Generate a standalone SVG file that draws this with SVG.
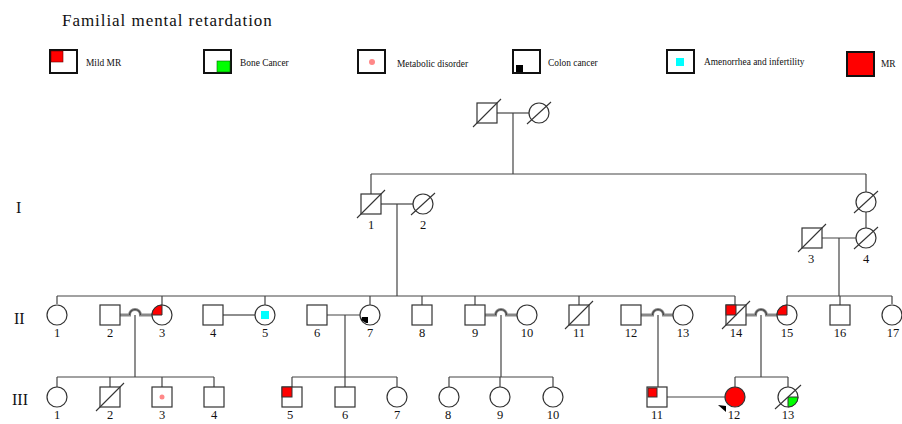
<svg xmlns="http://www.w3.org/2000/svg" width="902" height="424" viewBox="0 0 902 424">
<style>
.t{font-family:"Liberation Serif",serif;fill:#111}
.lab{font-size:12.5px;text-anchor:middle}
.leg{font-size:9.4px}
.gen{font-size:16px}
.n{fill:#fff;stroke:#333;stroke-width:1.2}
.lb{fill:#fff;stroke:#111;stroke-width:2}
.d{stroke:#333;stroke-width:1.1;fill:none}
.c line,.c path,.c polyline{stroke:#444;stroke-width:1.2;fill:none}
.c .dbl{stroke:#888;stroke-width:3}
</style>
<rect width="902" height="424" fill="#fff"/>
<text class="t" x="62" y="26" font-size="17" letter-spacing="0.95">Familial mental retardation</text>
<g id="legend">
<rect class="lb" x="50" y="50" width="27" height="23"/><rect x="51" y="51" width="12" height="11" fill="#f00" stroke="#600" stroke-width="0.6"/>
<text class="t leg" x="86" y="66">Mild MR</text>
<rect class="lb" x="204" y="50" width="27" height="23"/><rect x="217" y="61" width="13" height="11" fill="#0f0" stroke="#060" stroke-width="0.6"/>
<text class="t leg" x="240" y="66">Bone Cancer</text>
<rect class="lb" x="358" y="50" width="27" height="23"/><circle cx="372" cy="62" r="3" fill="#f88"/>
<text class="t leg" x="397" y="67">Metabolic disorder</text>
<rect class="lb" x="513" y="50" width="27" height="23"/><rect x="516" y="65" width="7" height="7" fill="#000"/>
<text class="t leg" x="548" y="66">Colon cancer</text>
<rect class="lb" x="667" y="50" width="27" height="23"/><rect x="676" y="58" width="8" height="8" fill="#0ff"/>
<text class="t leg" x="704" y="65">Amenorrhea and infertility</text>
<rect x="847" y="52" width="27" height="24" fill="#f00" stroke="#111" stroke-width="2"/>
<text class="t leg" x="881" y="67">MR</text>
</g>
<g id="gen-labels">
<text class="t gen" x="16" y="213">I</text>
<text class="t gen" x="14" y="324">II</text>
<text class="t gen" x="12" y="405">III</text>
</g>
<g class="c" id="connectors">
<line x1="497" y1="113" x2="529" y2="113"/>
<line x1="513" y1="113" x2="513" y2="174"/>
<line x1="371" y1="174" x2="866" y2="174"/>
<line x1="371" y1="174" x2="371" y2="194"/>
<line x1="866" y1="174" x2="866" y2="192"/>
<line x1="381" y1="204" x2="413" y2="204"/>
<line x1="397" y1="204" x2="397" y2="296"/>
<line x1="866" y1="212" x2="866" y2="228"/>
<line x1="822" y1="238" x2="856" y2="238"/>
<line x1="839" y1="238" x2="839" y2="296"/>
<line x1="57" y1="296" x2="735" y2="296"/>
<line x1="787" y1="296" x2="892" y2="296"/>
<line x1="57" y1="296" x2="57" y2="304"/>
<line x1="162" y1="296" x2="162" y2="305"/>
<line x1="265" y1="296" x2="265" y2="305"/>
<line x1="370" y1="296" x2="370" y2="305"/>
<line x1="422" y1="296" x2="422" y2="305"/>
<line x1="475" y1="296" x2="475" y2="305"/>
<line x1="579" y1="296" x2="579" y2="305"/>
<line x1="735" y1="296" x2="735" y2="305"/>
<line x1="787" y1="296" x2="787" y2="305"/>
<line x1="840" y1="296" x2="840" y2="305"/>
<line x1="892" y1="296" x2="892" y2="304"/>
<path class="dbl" d="M120,315 H129.5 A5.5,5.5 0 0 1 140.5,315 H152"/>
<path d="M129.5,315 A5.5,5.5 0 0 1 140.5,315"/>
<line x1="223" y1="315" x2="255" y2="315"/>
<line x1="327" y1="315" x2="360" y2="315"/>
<path class="dbl" d="M485,315 H495.5 A5.5,5.5 0 0 1 506.5,315 H517"/>
<path d="M495.5,315 A5.5,5.5 0 0 1 506.5,315"/>
<path class="dbl" d="M641,315 H652.5 A5.5,5.5 0 0 1 663.5,315 H673"/>
<path d="M652.5,315 A5.5,5.5 0 0 1 663.5,315"/>
<path class="dbl" d="M746,315 H755.5 A5.5,5.5 0 0 1 766.5,315 H777"/>
<path d="M755.5,315 A5.5,5.5 0 0 1 766.5,315"/>
<line x1="135" y1="315" x2="135" y2="377"/>
<line x1="345" y1="315" x2="345" y2="377"/>
<line x1="501" y1="315" x2="501" y2="377"/>
<line x1="658" y1="315" x2="658" y2="387"/>
<line x1="761" y1="315" x2="761" y2="377"/>
<line x1="57" y1="377" x2="214" y2="377"/>
<line x1="292" y1="377" x2="397" y2="377"/>
<line x1="449" y1="377" x2="553" y2="377"/>
<line x1="735" y1="377" x2="788" y2="377"/>
<line x1="57" y1="377" x2="57" y2="387"/>
<line x1="110" y1="377" x2="110" y2="387"/>
<line x1="162" y1="377" x2="162" y2="387"/>
<line x1="214" y1="377" x2="214" y2="387"/>
<line x1="292" y1="377" x2="292" y2="387"/>
<line x1="345" y1="377" x2="345" y2="387"/>
<line x1="397" y1="377" x2="397" y2="387"/>
<line x1="449" y1="377" x2="449" y2="387"/>
<line x1="500" y1="377" x2="500" y2="387"/>
<line x1="553" y1="377" x2="553" y2="387"/>
<line x1="735" y1="377" x2="735" y2="387"/>
<line x1="788" y1="377" x2="788" y2="387"/>
<line x1="667" y1="397" x2="725" y2="397"/>
</g>
<g id="top-m"><rect class="n" x="477" y="103" width="20" height="20"/><line class="d" x1="473" y1="127" x2="501" y2="99"/></g>
<g id="top-f"><circle class="n" cx="539" cy="113" r="10"/><line class="d" x1="527" y1="124" x2="551" y2="102"/></g>
<g id="I-1"><rect class="n" x="361" y="194" width="20" height="20"/><line class="d" x1="357" y1="218" x2="385" y2="190"/><text class="t lab" x="371" y="229">1</text></g>
<g id="I-2"><circle class="n" cx="423" cy="204" r="10"/><line class="d" x1="411" y1="215" x2="435" y2="193"/><text class="t lab" x="423" y="229">2</text></g>
<g id="I-top-r"><circle class="n" cx="866" cy="202" r="10"/><line class="d" x1="854" y1="213" x2="878" y2="191"/></g>
<g id="I-3"><rect class="n" x="802" y="228" width="20" height="20"/><line class="d" x1="798" y1="252" x2="826" y2="224"/><text class="t lab" x="811" y="263">3</text></g>
<g id="I-4"><circle class="n" cx="866" cy="238" r="10"/><line class="d" x1="854" y1="249" x2="878" y2="227"/><text class="t lab" x="866" y="263">4</text></g>
<g id="II-1"><circle class="n" cx="57" cy="315" r="10"/><text class="t lab" x="57" y="337">1</text></g>
<g id="II-2"><rect class="n" x="100" y="305" width="20" height="20"/><text class="t lab" x="110" y="337">2</text></g>
<g id="II-3"><circle class="n" cx="162" cy="315" r="10"/><path d="M162,315 H152 A10,10 0 0 1 162,305 Z" fill="#f00" stroke="#333" stroke-width="1"/><text class="t lab" x="162" y="337">3</text></g>
<g id="II-4"><rect class="n" x="203" y="305" width="20" height="20"/><text class="t lab" x="213" y="337">4</text></g>
<g id="II-5"><circle class="n" cx="265" cy="315" r="10"/><rect x="261" y="311" width="8" height="8" fill="#0ff"/><text class="t lab" x="265" y="337">5</text></g>
<g id="II-6"><rect class="n" x="307" y="305" width="20" height="20"/><text class="t lab" x="317" y="337">6</text></g>
<g id="II-7"><circle class="n" cx="370" cy="315" r="10"/><path d="M362,317 H368 V323 H366 L361,320 Z" fill="#000"/><text class="t lab" x="370" y="337">7</text></g>
<g id="II-8"><rect class="n" x="412" y="305" width="20" height="20"/><text class="t lab" x="422" y="337">8</text></g>
<g id="II-9"><rect class="n" x="465" y="305" width="20" height="20"/><text class="t lab" x="475" y="337">9</text></g>
<g id="II-10"><circle class="n" cx="527" cy="315" r="10"/><text class="t lab" x="527" y="337">10</text></g>
<g id="II-11"><rect class="n" x="569" y="305" width="20" height="20"/><line class="d" x1="565" y1="329" x2="593" y2="301"/><text class="t lab" x="579" y="337">11</text></g>
<g id="II-12"><rect class="n" x="621" y="305" width="20" height="20"/><text class="t lab" x="631" y="337">12</text></g>
<g id="II-13"><circle class="n" cx="683" cy="315" r="10"/><text class="t lab" x="683" y="337">13</text></g>
<g id="II-14"><rect class="n" x="726" y="305" width="20" height="20"/><rect x="726" y="305" width="10" height="10" fill="#f00" stroke="#333" stroke-width="1"/><line class="d" x1="722" y1="329" x2="750" y2="301"/><text class="t lab" x="736" y="337">14</text></g>
<g id="II-15"><circle class="n" cx="787" cy="315" r="10"/><path d="M787,315 H777 A10,10 0 0 1 787,305 Z" fill="#f00" stroke="#333" stroke-width="1"/><text class="t lab" x="787" y="337">15</text></g>
<g id="II-16"><rect class="n" x="830" y="305" width="20" height="20"/><text class="t lab" x="840" y="337">16</text></g>
<g id="II-17"><circle class="n" cx="892" cy="315" r="10"/><text class="t lab" x="893" y="337">17</text></g>
<g id="III-1"><circle class="n" cx="57" cy="397" r="10"/><text class="t lab" x="57" y="419">1</text></g>
<g id="III-2"><rect class="n" x="100" y="387" width="20" height="20"/><line class="d" x1="96" y1="411" x2="124" y2="383"/><text class="t lab" x="110" y="419">2</text></g>
<g id="III-3"><rect class="n" x="152" y="387" width="20" height="20"/><circle cx="162" cy="397" r="2.5" fill="#f88"/><text class="t lab" x="162" y="419">3</text></g>
<g id="III-4"><rect class="n" x="204" y="387" width="20" height="20"/><text class="t lab" x="214" y="419">4</text></g>
<g id="III-5"><rect class="n" x="282" y="387" width="20" height="20"/><rect x="282" y="387" width="10" height="10" fill="#f00" stroke="#333" stroke-width="1"/><text class="t lab" x="290" y="419">5</text></g>
<g id="III-6"><rect class="n" x="335" y="387" width="20" height="20"/><text class="t lab" x="345" y="419">6</text></g>
<g id="III-7"><circle class="n" cx="397" cy="397" r="10"/><text class="t lab" x="397" y="419">7</text></g>
<g id="III-8"><circle class="n" cx="449" cy="397" r="10"/><text class="t lab" x="448" y="419">8</text></g>
<g id="III-9"><circle class="n" cx="500" cy="397" r="10"/><text class="t lab" x="500" y="419">9</text></g>
<g id="III-10"><circle class="n" cx="553" cy="397" r="10"/><text class="t lab" x="553" y="419">10</text></g>
<g id="III-11"><rect class="n" x="647" y="387" width="20" height="20"/><rect x="648" y="388" width="9" height="9" fill="#f00" stroke="#333" stroke-width="1"/><text class="t lab" x="657" y="419">11</text></g>
<g id="III-12"><circle cx="735" cy="397" r="10" fill="#f00" stroke="#333" stroke-width="1.2"/><polygon points="718,405 726,406 726,412" fill="#000"/><text class="t lab" x="734" y="419">12</text></g>
<g id="III-13"><circle class="n" cx="788" cy="397" r="10"/><path d="M788,397 H798 A10,10 0 0 1 788,407 Z" fill="#0f0" stroke="#333" stroke-width="1"/><line class="d" x1="775" y1="409" x2="801" y2="385"/><text class="t lab" x="788" y="419">13</text></g>
</svg>
